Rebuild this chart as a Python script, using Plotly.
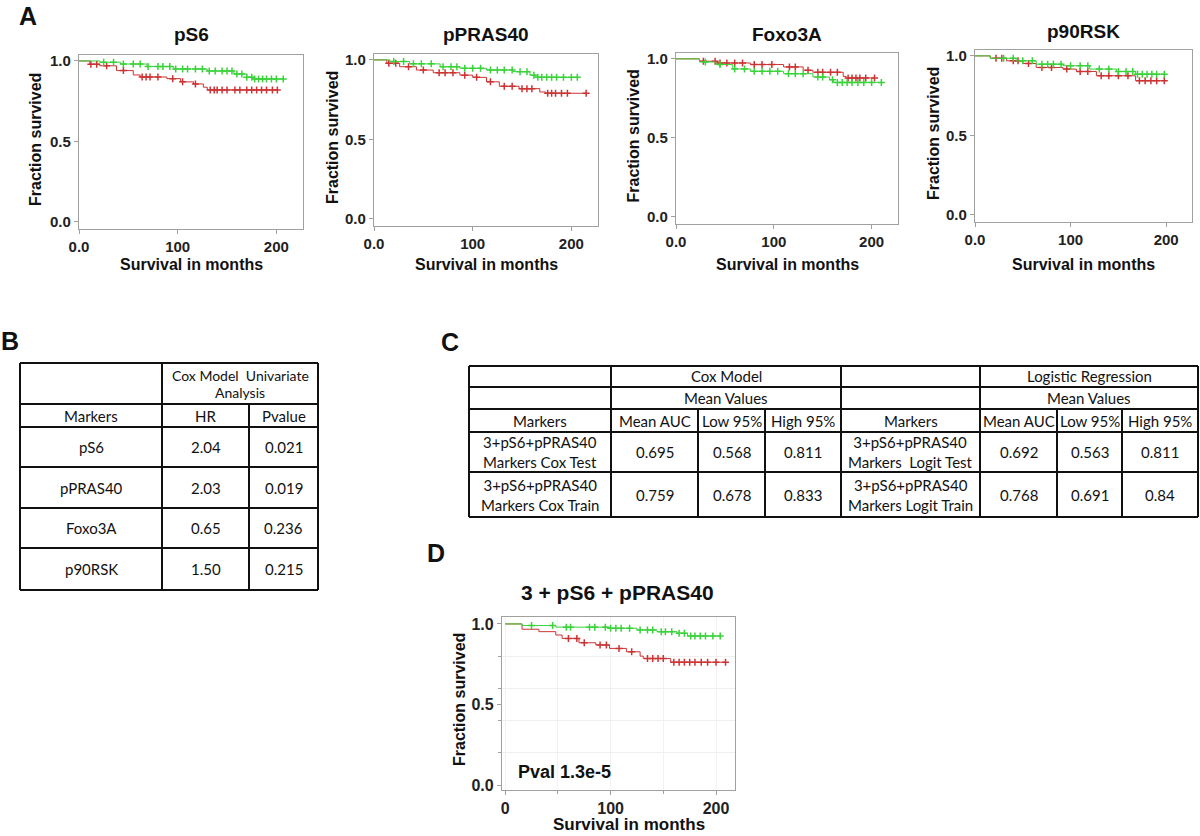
import numpy as np
import plotly.graph_objects as go

# --- Kaplan-Meier curves (months, fraction survived) ---
pS6_hi_t = [0, 21, 42, 69, 96, 130, 157, 170, 177, 207]
pS6_hi_s = [1, 0.992, 0.981, 0.965, 0.950, 0.938, 0.919, 0.899, 0.888, 0.888]
pS6_lo_t = [0, 11, 21, 38, 55, 62, 89, 103, 116, 126, 130, 201]
pS6_lo_s = [1, 0.98, 0.97, 0.94, 0.913, 0.90, 0.89, 0.87, 0.857, 0.837, 0.82, 0.82]
pS6_hi_c = [25, 35, 45, 55, 62, 70, 80, 85, 92, 98, 105, 110, 118, 125, 132, 138, 145, 150,
            155, 160, 165, 170, 175, 178, 182, 186, 190, 195, 200, 207]
pS6_lo_c = [12, 18, 28, 45, 64, 68, 72, 80, 95, 105, 118, 133, 137, 140, 145, 150, 158, 163,
            170, 175, 180, 185, 190, 196, 201]

pPRAS40_hi_t = [0, 16, 36, 67, 87, 114, 141, 158, 164, 206]
pPRAS40_hi_s = [1, 0.99, 0.975, 0.957, 0.947, 0.936, 0.926, 0.904, 0.89, 0.89]
pPRAS40_lo_t = [0, 13, 26, 43, 60, 87, 100, 114, 127, 147, 168, 174, 215]
pPRAS40_lo_s = [1, 0.979, 0.957, 0.936, 0.919, 0.904, 0.89, 0.862, 0.834, 0.819, 0.798, 0.79, 0.79]
pPRAS40_hi_c = [20, 30, 40, 48, 58, 70, 78, 84, 92, 100, 108, 118, 125, 132, 140, 148, 155,
                162, 166, 170, 175, 180, 185, 192, 200, 206]
pPRAS40_lo_c = [15, 22, 35, 50, 66, 72, 80, 92, 104, 118, 132, 140, 150, 155, 160, 176, 180,
                184, 190, 196, 215]

Foxo3A_hi_t = [0, 24, 41, 58, 76, 110, 140, 157, 161, 210]
Foxo3A_hi_s = [1, 0.98, 0.964, 0.936, 0.921, 0.906, 0.885, 0.868, 0.851, 0.851]
Foxo3A_lo_t = [0, 24, 41, 76, 110, 130, 140, 171, 174, 203]
Foxo3A_lo_s = [1, 0.985, 0.974, 0.964, 0.949, 0.928, 0.915, 0.889, 0.879, 0.879]
Foxo3A_hi_c = [30, 45, 60, 70, 80, 88, 96, 104, 115, 122, 130, 145, 150, 160, 165, 170, 175,
               180, 186, 192, 200, 210]
Foxo3A_lo_c = [28, 40, 45, 52, 60, 68, 80, 88, 98, 116, 122, 135, 145, 150, 158, 165, 176,
               180, 184, 188, 194, 203]

p90RSK_hi_t = [0, 16, 43, 64, 92, 120, 148, 168, 198]
p90RSK_hi_s = [1, 0.985, 0.969, 0.948, 0.938, 0.917, 0.902, 0.885, 0.885]
p90RSK_lo_t = [0, 16, 33, 50, 64, 92, 106, 127, 168, 198]
p90RSK_lo_s = [1, 0.985, 0.969, 0.952, 0.927, 0.917, 0.902, 0.875, 0.844, 0.844]
p90RSK_hi_c = [30, 40, 50, 60, 70, 76, 82, 90, 100, 110, 118, 130, 140, 150, 158, 165, 170,
               175, 180, 185, 190, 198]
p90RSK_lo_c = [22, 28, 40, 45, 56, 70, 80, 96, 110, 118, 132, 140, 150, 160, 172, 178, 184,
               190, 198]

D_hi_t = [0, 16, 48, 99, 125, 144, 163, 173, 204]
D_hi_s = [1, 0.99, 0.98, 0.973, 0.963, 0.952, 0.942, 0.925, 0.925]
D_lo_t = [0, 16, 32, 48, 54, 70, 86, 99, 115, 128, 131, 157, 209]
D_lo_s = [1, 0.967, 0.952, 0.931, 0.91, 0.883, 0.869, 0.848, 0.827, 0.80, 0.785, 0.762, 0.762]
D_hi_c = [25, 45, 58, 62, 80, 85, 95, 100, 105, 110, 118, 128, 135, 140, 148, 152, 158, 165,
          170, 176, 180, 185, 190, 197, 204]
D_lo_c = [60, 68, 75, 90, 96, 108, 120, 135, 140, 145, 150, 160, 165, 170, 175, 180, 186,
          192, 200, 209]

panel_titles = ["pS6", "pPRAS40", "Foxo3A", "p90RSK", "3 + pS6 + pPRAS40"]
pval_text = "Pval 1.3e-5"

# --- Table B ---
b_markers = ["pS6", "pPRAS40", "Foxo3A", "p90RSK"]
b_hr = [2.04, 2.03, 0.65, 1.50]
b_pvalue = [0.021, 0.019, 0.236, 0.215]
b_header = ["Markers", "HR", "Pvalue"]

# --- Table C ---
c_cox_labels = ["3+pS6+pPRAS40<br>Markers Cox Test", "3+pS6+pPRAS40<br>Markers Cox Train"]
c_cox_auc = [0.695, 0.759]
c_cox_low = [0.568, 0.678]
c_cox_high = [0.811, 0.833]
c_logit_labels = ["3+pS6+pPRAS40<br>Markers  Logit Test", "3+pS6+pPRAS40<br>Markers Logit Train"]
c_logit_auc = [0.692, 0.768]
c_logit_low = [0.563, 0.691]
c_logit_high = [0.811, 0.84]
c_header = ["Markers", "Mean AUC", "Low 95%", "High 95%"]

W, H = 1200, 836
GREEN = "#3ad23a"
RED = "#cc3434"
PLOT_FONT = "Liberation Sans, Arial, sans-serif"
TABLE_FONT = "Lato, Open Sans, sans-serif"


def fx(p):
    return p / W


def fy(p):
    return 1 - p / H


def step_at(t, s, c):
    idx = np.searchsorted(np.array(t), np.array(c), side="right") - 1
    return np.array(s)[idx]


fig = go.Figure()

curves = [
    (pS6_hi_t, pS6_hi_s, pS6_hi_c, pS6_lo_t, pS6_lo_s, pS6_lo_c),
    (pPRAS40_hi_t, pPRAS40_hi_s, pPRAS40_hi_c, pPRAS40_lo_t, pPRAS40_lo_s, pPRAS40_lo_c),
    (Foxo3A_hi_t, Foxo3A_hi_s, Foxo3A_hi_c, Foxo3A_lo_t, Foxo3A_lo_s, Foxo3A_lo_c),
    (p90RSK_hi_t, p90RSK_hi_s, p90RSK_hi_c, p90RSK_lo_t, p90RSK_lo_s, p90RSK_lo_c),
    (D_hi_t, D_hi_s, D_hi_c, D_lo_t, D_lo_s, D_lo_c),
]

# pixel boxes of each plot area: left, right, top, bottom
boxes = [(79, 303, 55, 229), (374, 598, 54, 226), (676, 898, 53, 224),
         (975, 1192, 50, 222), (502, 735, 617, 790)]

for i, (ht, hs, hc, lt, ls, lc) in enumerate(curves):
    xa = "x" if i == 0 else f"x{i+1}"
    ya = "y" if i == 0 else f"y{i+1}"
    for t, s, c, col in [(lt, ls, lc, RED), (ht, hs, hc, GREEN)]:
        fig.add_trace(go.Scatter(x=t, y=s, mode="lines", line=dict(color=col, width=1, shape="hv"),
                                 xaxis=xa, yaxis=ya, hoverinfo="skip"))
        fig.add_trace(go.Scatter(x=c, y=step_at(t, s, c), mode="markers",
                                 marker=dict(symbol="cross-thin", size=5,
                                             line=dict(color=col, width=1.5)),
                                 xaxis=xa, yaxis=ya, hoverinfo="skip"))

tick_font = dict(family=PLOT_FONT, size=15, color="#222", weight="bold")
layout = dict(width=W, height=H, margin=dict(l=0, r=0, t=0, b=0, pad=0), showlegend=False,
              paper_bgcolor="white", plot_bgcolor="white", template="none")

for i, (l, r, t, b) in enumerate(boxes):
    kx = "xaxis" if i == 0 else f"xaxis{i+1}"
    ky = "yaxis" if i == 0 else f"yaxis{i+1}"
    xa = "x" if i == 0 else f"x{i+1}"
    ya = "y" if i == 0 else f"y{i+1}"
    common = dict(showline=True, linecolor="#a0a0a0", linewidth=1.2, mirror=True,
                  ticks="outside", ticklen=4, tickcolor="#a0a0a0", zeroline=False,
                  automargin=False)
    if i < 4:
        layout[kx] = dict(domain=[fx(l), fx(r)], anchor=ya, range=[0, 227],
                          tickvals=[0, 100, 200], ticktext=["0.0", "100", "200"],
                          showgrid=False, tickfont=tick_font, **common)
        layout[ky] = dict(domain=[fy(b), fy(t)], anchor=xa, range=[-0.045, 1.037],
                          tickvals=[0, 0.5, 1], ticktext=["0.0", "0.5", "1.0"],
                          showgrid=False, tickfont=tick_font, **common)
    else:
        big = dict(tick_font, size=16)
        layout[kx] = dict(domain=[fx(l), fx(r)], anchor=ya, range=[-3, 218],
                          tickvals=[0, 100, 200], ticktext=["0", "100", "200"],
                          showgrid=True, gridcolor="#f2f2f2", tickfont=big,
                          minor=dict(tickvals=[50, 150], ticks="outside", ticklen=3,
                                     tickcolor="#a0a0a0", showgrid=True, gridcolor="#f2f2f2"),
                          **common)
        layout[ky] = dict(domain=[fy(b), fy(t)], anchor=xa, range=[-0.031, 1.043],
                          tickvals=[0, 0.5, 1], ticktext=["0.0", "0.5", "1.0"],
                          showgrid=False, tickfont=big,
                          minor=dict(tickvals=[0.2, 0.4, 0.6, 0.8], ticks="outside", ticklen=3,
                                     tickcolor="#a0a0a0", showgrid=True, gridcolor="#f0f0f0"),
                          **common)

fig.update_layout(**layout)

ann = []


def text(x, y, s, size, font=PLOT_FONT, bold=True, angle=0, xanchor="center"):
    ann.append(dict(x=fx(x), y=fy(y), xref="paper", yref="paper", text=s, showarrow=False,
                    textangle=angle, xanchor=xanchor, yanchor="middle",
                    font=dict(family=font, size=size, color="#111",
                              weight="bold" if bold else "normal")))


# panel letters
for s, x, y in [("A", 28, 16), ("B", 10, 341), ("C", 450, 342), ("D", 436, 553)]:
    text(x, y, s, 25)

# plot titles and axis titles
title_y = [35, 35, 34, 32]
ylab_x = [35, 332, 633, 933]
for i in range(4):
    l, r, t, b = boxes[i]
    text((l + r) / 2, title_y[i], panel_titles[i], 19)
    text(ylab_x[i], (t + b) / 2 - 2, "Fraction survived", 16, angle=-90)
    text((l + r) / 2, 264, "Survival in months", 16)

text(617, 592, panel_titles[4], 21)
text(459, 700, "Fraction survived", 16, angle=-90)
text(629, 824, "Survival in months", 17)
text(516, 772, pval_text, 18, xanchor="left")

shapes = []


def hline(x0, x1, y):
    shapes.append(dict(type="line", xref="paper", yref="paper", x0=fx(x0), x1=fx(x1),
                       y0=fy(y), y1=fy(y), line=dict(color="#111", width=2)))


def vline(x, y0, y1):
    shapes.append(dict(type="line", xref="paper", yref="paper", x0=fx(x), x1=fx(x),
                       y0=fy(y0), y1=fy(y1), line=dict(color="#111", width=2)))


# --- Table B grid ---
bx = [20, 162, 249, 318]
by = [363, 404, 427, 467, 508, 548, 590]
for y in by:
    hline(bx[0], bx[3], y)
vline(bx[0], by[0], by[-1])
vline(bx[1], by[0], by[-1])
vline(bx[2], by[1], by[-1])
vline(bx[3], by[0], by[-1])

tf = 15
text((bx[1] + bx[3]) / 2, 375, "Cox Model  Univariate", 14, TABLE_FONT, False)
text((bx[1] + bx[3]) / 2, 392, "Analysis", 14, TABLE_FONT, False)
for j, h in enumerate(b_header):
    text((bx[j] + bx[j + 1]) / 2, (by[1] + by[2]) / 2, h, tf, TABLE_FONT, False)
for k in range(len(b_markers)):
    yc = (by[k + 2] + by[k + 3]) / 2
    row = [b_markers[k], f"{b_hr[k]:.2f}", f"{b_pvalue[k]:.3f}"]
    for j, v in enumerate(row):
        text((bx[j] + bx[j + 1]) / 2, yc, v, tf, TABLE_FONT, False)

# --- Table C grid ---
cx = [469, 611, 698, 765, 841, 980, 1057, 1122, 1198]
cy = [366, 387, 409, 432, 472, 517]
for y in cy:
    hline(cx[0], cx[-1], y)
for j, x in enumerate(cx):
    if j in (2, 3, 6, 7):
        vline(x, cy[2], cy[-1])
    else:
        vline(x, cy[0], cy[-1])

text((cx[1] + cx[4]) / 2, (cy[0] + cy[1]) / 2, "Cox Model", tf, TABLE_FONT, False)
text((cx[1] + cx[4]) / 2, (cy[1] + cy[2]) / 2, "Mean Values", tf, TABLE_FONT, False)
text((cx[5] + cx[8]) / 2, (cy[0] + cy[1]) / 2, "Logistic Regression", tf, TABLE_FONT, False)
text((cx[5] + cx[8]) / 2, (cy[1] + cy[2]) / 2, "Mean Values", tf, TABLE_FONT, False)
for j in range(8):
    text((cx[j] + cx[j + 1]) / 2, (cy[2] + cy[3]) / 2, c_header[j % 4], tf, TABLE_FONT, False)
for k in range(2):
    yc = (cy[k + 3] + cy[k + 4]) / 2
    row = [c_cox_labels[k], f"{c_cox_auc[k]:g}", f"{c_cox_low[k]:g}", f"{c_cox_high[k]:g}",
           c_logit_labels[k], f"{c_logit_auc[k]:g}", f"{c_logit_low[k]:g}", f"{c_logit_high[k]:g}"]
    for j, v in enumerate(row):
        text((cx[j] + cx[j + 1]) / 2, yc, v, tf, TABLE_FONT, False)

fig.update_layout(annotations=ann, shapes=shapes)
# page body has a default 8px margin; drop it so the figure fills the window exactly
fig.write_html("out.html", config={"displayModeBar": False},
               post_script="document.body.style.margin='0';")
